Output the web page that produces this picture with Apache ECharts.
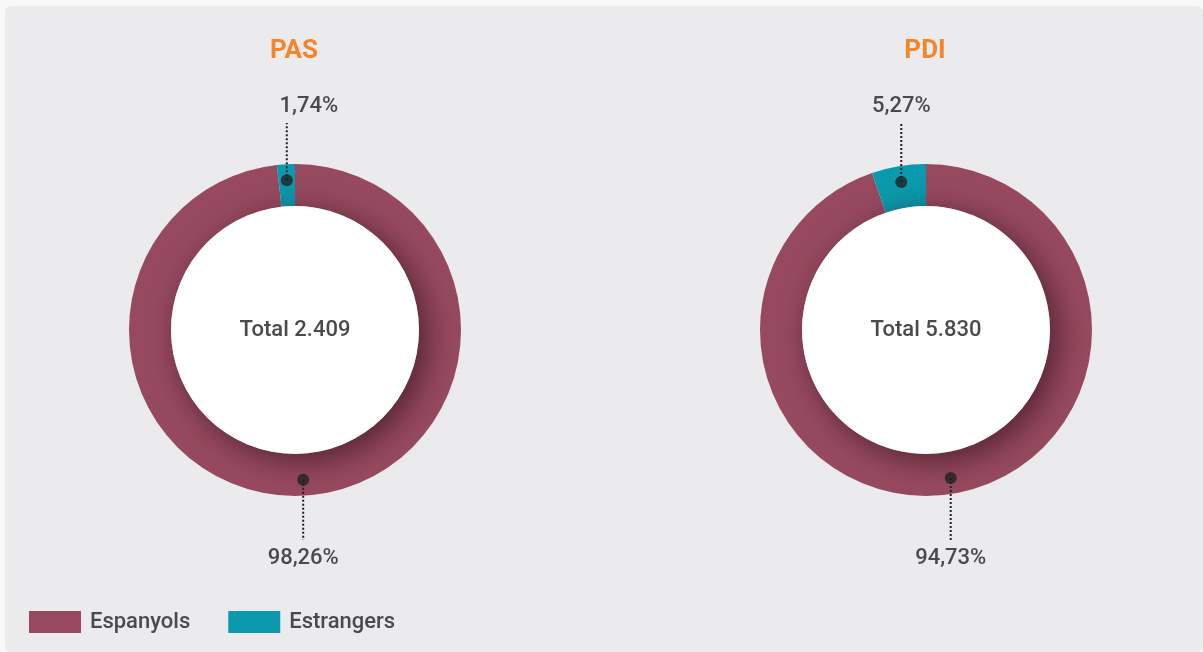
<!DOCTYPE html>
<html>
<head>
<meta charset="utf-8">
<script src="https://cdn.jsdelivr.net/npm/echarts@6/dist/echarts.min.js"></script>
<style>
  html, body { margin: 0; padding: 0; background: #f8f8f9; }
  #card { position: absolute; left: 5px; top: 6px; right: 0; bottom: 0; background: #ebebed; border-radius: 6px; }
  #main { position: absolute; left: 0; top: 0; width: 1203px; height: 652px; }
</style>
</head>
<body>
<div id="card"></div>
<div id="main"></div>
<script>
// dades
var categories = ["Espanyols", "Estrangers"];
var groups = ["PAS", "PDI"];
var pasPct = [98.26, 1.74];
var pdiPct = [94.73, 5.27];
var totals = [2409, 5830];

var colors = ["#974a5f", "#0b9aad"];
var centers = [[295, 330], [926, 330]];
var CY = 330;
// desplaçament horitzontal de l'etiqueta superior (PAS està una mica a la dreta)
var topLabelShift = [22, 0];

function fmtPct(v) {
  return v.toFixed(2).replace(".", ",") + "%";
}
function fmtTotal(v) {
  return "Total " + v.toLocaleString("de-DE");
}
// punt mig de cada sector (en % acumulat) per posar el punt negre
function midPoints(vals) {
  var acc = 0;
  return vals.map(function (v) {
    var m = acc + v / 2;
    acc += v;
    return [150, m];
  });
}

var myChart = echarts.init(document.getElementById("main"));

var series = [];
var polar = [];
var angleAxis = [];
var radiusAxis = [];
var titles = [];

[pasPct, pdiPct].forEach(function (vals, i) {
  var c = centers[i];
  var data = categories.map(function (n, k) {
    return { name: n, value: vals[k] };
  });

  titles.push({
    text: groups[i],
    left: c[0] - 1,
    top: 38,
    padding: 0,
    textAlign: "center",
    textStyle: { color: "#f5852b", fontSize: 26, fontWeight: "bold", fontFamily: "Roboto" },
  });

  polar.push({ center: c, radius: 166 });
  angleAxis.push({ polarIndex: i, type: "value", min: 0, max: 100, startAngle: 90, clockwise: true, show: false });
  radiusAxis.push({ polarIndex: i, type: "value", min: 0, max: 166, show: false });

  // anell
  series.push({
    name: groups[i],
    type: "pie",
    center: c,
    radius: [124, 166],
    startAngle: 90,
    color: colors,
    silent: true,
    label: { show: false },
    labelLine: { show: false },
    emphasis: { disabled: true },
    data: data,
    z: 1,
  });

  // cercle blanc amb ombra
  series.push({
    name: "total" + i,
    type: "pie",
    center: c,
    radius: [0, 124],
    silent: true,
    z: 2,
    itemStyle: {
      color: "#ffffff",
      shadowBlur: 30,
      shadowColor: "rgba(40, 10, 20, 0.6)",
      shadowOffsetX: 8,
      shadowOffsetY: 7,
    },
    label: {
      show: true,
      position: "center",
      formatter: fmtTotal(totals[i]),
      color: "#4a4a4c",
      fontSize: 22,
      fontWeight: 500,
      fontFamily: "Roboto",
      padding: [6, 0, 0, 0],
    },
    labelLine: { show: false },
    emphasis: { disabled: true },
    data: [{ name: "Total", value: totals[i] }],
  });

  // etiquetes amb línia de punts
  series.push({
    name: groups[i] + " labels",
    type: "pie",
    center: c,
    radius: [0, 150],
    startAngle: 90,
    silent: true,
    z: 3,
    avoidLabelOverlap: false,
    itemStyle: { color: "rgba(0,0,0,0)" },
    label: {
      show: true,
      position: "outside",
      formatter: function (p) {
        return fmtPct(p.value);
      },
      color: "#4a4a4c",
      fontSize: 22,
      fontWeight: 500,
      fontFamily: "Roboto",
    },
    labelLine: {
      show: true,
      length: 20,
      length2: 0,
      lineStyle: { color: "#222", width: 2, type: [2, 2] },
    },
    labelLayout: function (p) {
      var pt = p.labelLinePoints[0];
      var top = pt[1] < CY;
      var ly = top ? 106 : 558;
      var end = top ? 123 : 540;
      return {
        x: pt[0] + (top ? topLabelShift[i] : 0),
        y: ly,
        align: "center",
        verticalAlign: "middle",
        labelLinePoints: [[pt[0], pt[1]], [pt[0], (pt[1] + end) / 2], [pt[0], end]],
      };
    },
    emphasis: { disabled: true },
    data: data,
  });

  // punts
  series.push({
    name: groups[i] + " punts",
    type: "scatter",
    coordinateSystem: "polar",
    polarIndex: i,
    symbolSize: 12,
    silent: true,
    z: 4,
    itemStyle: { color: "#222222" },
    data: midPoints(vals),
  });
});

var option = {
  animation: false,
  title: titles,
  legend: {
    data: categories,
    left: 29,
    top: 611,
    padding: 0,
    icon: "rect",
    itemWidth: 52,
    itemHeight: 22,
    itemGap: 38,
    textStyle: { color: "#4a4a4c", fontSize: 22, fontWeight: 500, fontFamily: "Roboto", padding: [0, 0, 0, 4] },
  },
  polar: polar,
  angleAxis: angleAxis,
  radiusAxis: radiusAxis,
  series: series,
};

myChart.setOption(option);
</script>
</body>
</html>
